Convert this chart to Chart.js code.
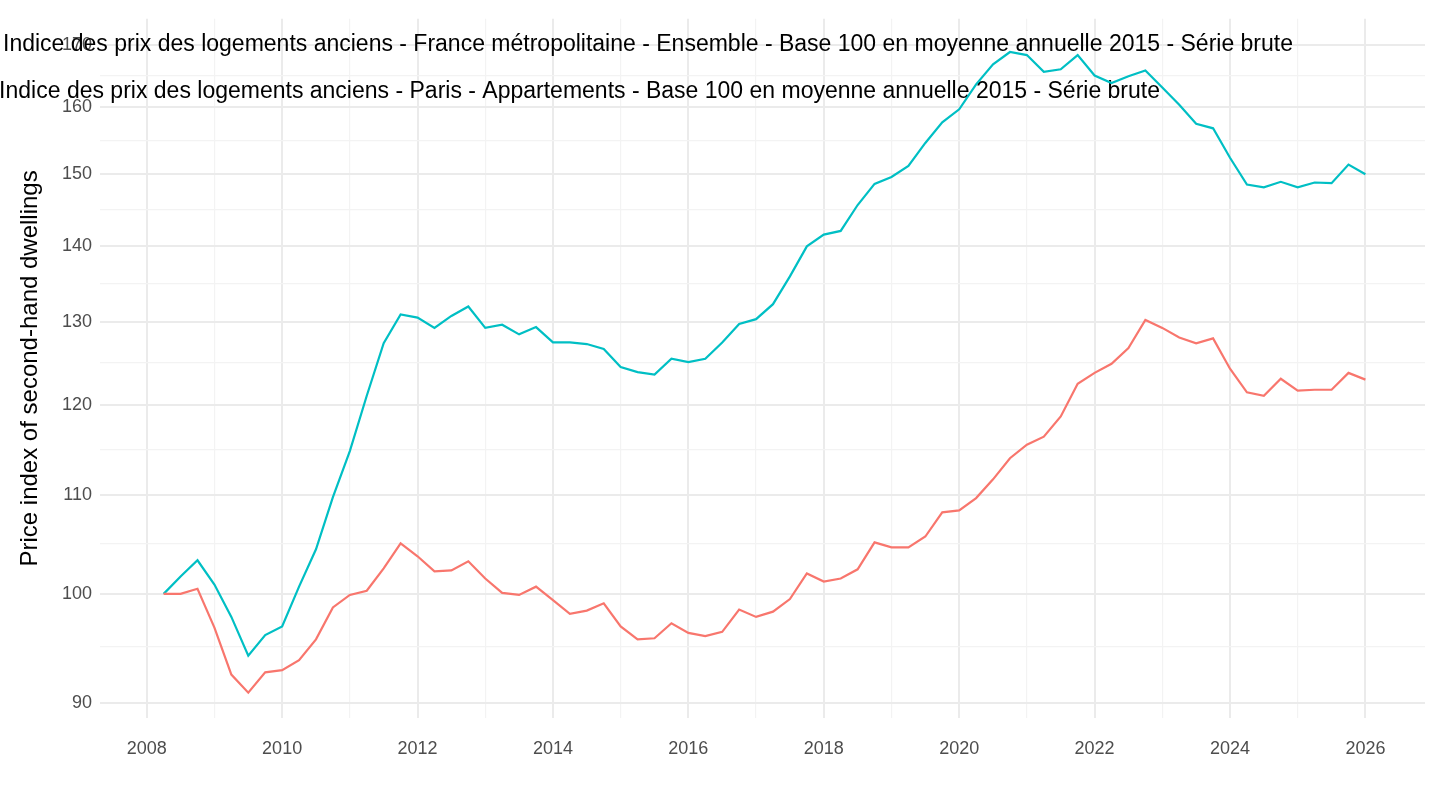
<!DOCTYPE html>
<html>
<head>
<meta charset="utf-8">
<script src="https://cdn.jsdelivr.net/npm/chart.js@4"></script>
<style>
  html, body { margin: 0; padding: 0; background: #fff; }
  #wrap { width: 1440px; height: 810px; }
</style>
</head>
<body>
<div id="wrap"><canvas id="c"></canvas></div>
<script>
// quarterly dates, 2008 Q2 .. 2026 Q1
const quarters = [];
for (let i = 0; i < 72; i++) quarters.push(2008.25 + i * 0.25);

const parisAppartements = [
  100, 101.7, 103.3, 100.9, 97.8, 94.2, 96.1, 96.9,
  100.7, 104.4, 109.8, 114.8, 121.1, 127.4, 131.0, 130.6,
  129.3, 130.8, 132.0, 129.3, 129.7, 128.5, 129.4, 127.5,
  127.5, 127.3, 126.7, 124.5, 123.9, 123.6, 125.5, 125.1,
  125.5, 127.5, 129.8, 130.4, 132.3, 135.9, 139.9, 141.5,
  142.0, 145.6, 148.6, 149.6, 151.2, 154.6, 157.7, 159.7,
  163.6, 166.8, 168.8, 168.3, 165.6, 166.0, 168.3, 165.0,
  163.8, 164.9, 165.8, 163.1, 160.4, 157.5, 156.8, 152.4,
  148.5, 148.1, 148.9, 148.1, 148.8, 148.7, 151.4, 150.0
];

const franceEnsemble = [
  100, 100, 100.5, 96.8, 92.5, 90.9, 92.7, 92.9,
  93.8, 95.7, 98.7, 99.9, 100.3, 102.5, 105.0, 103.7,
  102.2, 102.3, 103.2, 101.5, 100.1, 99.9, 100.7, 99.4,
  98.1, 98.4, 99.1, 96.9, 95.7, 95.8, 97.2, 96.3,
  96.0, 96.4, 98.5, 97.8, 98.3, 99.5, 102.0, 101.2,
  101.5, 102.4, 105.1, 104.6, 104.6, 105.7, 108.2, 108.4,
  109.7, 111.7, 114.0, 115.5, 116.4, 118.7, 122.5, 123.8,
  124.9, 126.8, 130.3, 129.3, 128.1, 127.4, 128.0, 124.3,
  121.5, 121.1, 123.1, 121.7, 121.8, 121.8, 123.8, 123.0
];

const yTicks = [90, 95, 100, 105, 110, 115, 120, 125, 130, 135, 140, 145, 150, 155, 160, 165, 170];
const labelFrance = 'Indice des prix des logements anciens - France métropolitaine - Ensemble - Base 100 en moyenne annuelle 2015 - Série brute';
const labelParis = 'Indice des prix des logements anciens - Paris - Appartements - Base 100 en moyenne annuelle 2015 - Série brute';

const toPoints = vals => vals.map((v, i) => ({ x: quarters[i], y: v }));

// labels sit behind the lines, as in the original
const seriesLabels = {
  id: 'seriesLabels',
  beforeDatasetsDraw(chart) {
    const { ctx, scales: { y } } = chart;
    ctx.save();
    ctx.font = '23px "Liberation Sans", Arial, sans-serif';
    ctx.fillStyle = '#000';
    ctx.textAlign = 'right';
    ctx.textBaseline = 'middle';
    ctx.fillText(labelFrance, 1293, y.getPixelForValue(170));
    ctx.fillText(labelParis, 1160, y.getPixelForValue(162.5));
    ctx.restore();
  }
};

new Chart(document.getElementById('c'), {
  type: 'line',
  data: {
    datasets: [
      { data: toPoints(franceEnsemble), borderColor: '#F8766D', borderWidth: 2.2, pointRadius: 0, tension: 0 },
      { data: toPoints(parisAppartements), borderColor: '#00BFC4', borderWidth: 2.2, pointRadius: 0, tension: 0 }
    ]
  },
  options: {
    responsive: true, maintainAspectRatio: false, animation: false,
    layout: { padding: { top: 15, right: 15 } },
    plugins: { legend: { display: false }, tooltip: { enabled: false } },
    scales: {
      x: {
        type: 'linear', min: 2007.31, max: 2026.88,
        afterBuildTicks: s => { s.ticks = []; for (let yr = 2008; yr <= 2026; yr++) s.ticks.push({ value: yr }); },
        afterFit: s => { s.height = 92; },
        ticks: {
          color: '#4d4d4d', font: { size: 18, family: '"Liberation Sans", Arial' }, padding: 20,
          callback: v => (v % 2 === 0 ? String(v) : '')
        },
        grid: {
          color: c => (c.tick && c.tick.value % 2 === 0 ? '#ebebeb' : '#f3f3f3'),
          lineWidth: c => (c.tick && c.tick.value % 2 === 0 ? 2 : 1.2),
          drawTicks: false
        },
        border: { display: false }
      },
      y: {
        type: 'logarithmic', min: 88.7, max: 174.3,
        afterBuildTicks: s => { s.ticks = yTicks.map(v => ({ value: v })); },
        afterFit: s => { s.width = 100; },
        ticks: {
          color: '#4d4d4d', font: { size: 18, family: '"Liberation Sans", Arial' }, padding: 8,
          callback: v => (v % 10 === 0 ? String(v) : '')
        },
        grid: {
          color: c => (c.tick && c.tick.value % 10 === 0 ? '#ebebeb' : '#f3f3f3'),
          lineWidth: c => (c.tick && c.tick.value % 10 === 0 ? 2 : 1.2),
          drawTicks: false
        },
        border: { display: false },
        title: {
          display: true, text: 'Price index of second-hand dwellings',
          color: '#000', font: { size: 24, family: '"Liberation Sans", Arial' }, padding: { top: 16, bottom: 0 }
        }
      }
    }
  },
  plugins: [seriesLabels]
});
</script>
</body>
</html>
